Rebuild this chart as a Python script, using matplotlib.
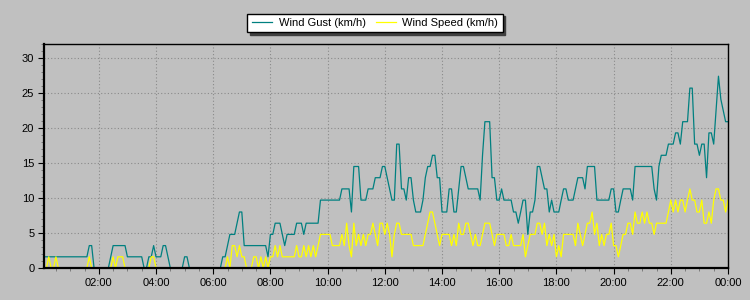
import numpy as np
import matplotlib
matplotlib.use("Agg")
import matplotlib.pyplot as plt
import matplotlib.ticker as mticker

# 5-minute readings, 00:05 .. 24:00, one row per hour
gust_kmh = [
    1.6, 1.6, 1.6, 1.6, 1.6, 1.6, 1.6, 1.6, 1.6, 1.6, 1.6, 1.6,
    1.6, 1.6, 1.6, 1.6, 1.6, 1.6, 1.6, 3.2, 3.2, 0, 0, 0,
    0, 0, 0, 0, 1.6, 3.2, 3.2, 3.2, 3.2, 3.2, 3.2, 1.6,
    1.6, 1.6, 1.6, 1.6, 1.6, 1.6, 0, 0, 1.6, 1.6, 3.2, 1.6,
    1.6, 1.6, 3.2, 3.2, 1.6, 0, 0, 0, 0, 0, 0, 1.6,
    1.6, 0, 0, 0, 0, 0, 0, 0, 0, 0, 0, 0,
    0, 0, 0, 1.6, 1.6, 3.2, 4.8, 4.8, 4.8, 6.4, 8.0, 8.0,
    3.2, 3.2, 3.2, 3.2, 3.2, 3.2, 3.2, 3.2, 3.2, 3.2, 1.6, 4.8,
    4.8, 6.4, 6.4, 6.4, 4.8, 3.2, 4.8, 4.8, 4.8, 4.8, 6.4, 6.4,
    6.4, 4.8, 6.4, 6.4, 6.4, 6.4, 6.4, 6.4, 9.7, 9.7, 9.7, 9.7,
    9.7, 9.7, 9.7, 9.7, 9.7, 11.3, 11.3, 11.3, 11.3, 8.0, 14.5, 14.5,
    14.5, 9.7, 9.7, 9.7, 11.3, 11.3, 11.3, 12.9, 12.9, 12.9, 14.5, 14.5,
    12.9, 11.3, 9.7, 9.7, 17.7, 17.7, 11.3, 11.3, 9.7, 12.9, 12.9, 9.7,
    8.0, 8.0, 8.0, 9.7, 12.9, 14.5, 14.5, 16.1, 16.1, 12.9, 12.9, 8.0,
    8.0, 8.0, 11.3, 11.3, 8.0, 8.0, 11.3, 14.5, 14.5, 12.9, 11.3, 11.3,
    11.3, 11.3, 11.3, 9.7, 16.1, 20.9, 20.9, 20.9, 12.9, 12.9, 9.7, 9.7,
    11.3, 9.7, 9.7, 9.7, 9.7, 8.0, 8.0, 6.4, 8.0, 9.7, 9.7, 4.8,
    8.0, 8.0, 9.7, 14.5, 14.5, 12.9, 11.3, 11.3, 8.0, 9.7, 8.0, 8.0,
    8.0, 9.7, 11.3, 11.3, 9.7, 9.7, 9.7, 11.3, 12.9, 12.9, 12.9, 11.3,
    14.5, 14.5, 14.5, 14.5, 9.7, 9.7, 9.7, 9.7, 9.7, 9.7, 11.3, 11.3,
    8.0, 8.0, 9.7, 11.3, 11.3, 11.3, 11.3, 9.7, 14.5, 14.5, 14.5, 14.5,
    14.5, 14.5, 14.5, 14.5, 11.3, 9.7, 14.5, 16.1, 16.1, 16.1, 17.7, 17.7,
    17.7, 19.3, 19.3, 17.7, 20.9, 20.9, 20.9, 25.7, 25.7, 17.7, 17.7, 16.1,
    17.7, 17.7, 12.9, 19.3, 19.3, 17.7, 22.5, 27.4, 24.1, 22.5, 20.9, 20.9,
]

speed_kmh = [
    0, 0, 1.6, 0, 0, 1.6, 0, 0, 0, 0, 0, 0,
    0, 0, 0, 0, 0, 0, 0, 1.6, 0, 0, 0, 0,
    0, 0, 0, 0, 0, 1.6, 0, 1.6, 1.6, 1.6, 0, 0,
    0, 0, 0, 0, 0, 0, 0, 0, 0, 1.6, 1.6, 0,
    0, 0, 0, 0, 0, 0, 0, 0, 0, 0, 0, 0,
    0, 0, 0, 0, 0, 0, 0, 0, 0, 0, 0, 0,
    0, 0, 0, 0, 0, 1.6, 0, 3.2, 3.2, 1.6, 3.2, 1.6,
    1.6, 0, 0, 0, 1.6, 1.6, 0, 1.6, 0, 1.6, 0, 1.6,
    1.6, 3.2, 1.6, 3.2, 1.6, 1.6, 1.6, 1.6, 1.6, 1.6, 3.2, 1.6,
    1.6, 3.2, 1.6, 3.2, 1.6, 3.2, 1.6, 3.2, 4.8, 4.8, 4.8, 4.8,
    4.8, 3.2, 3.2, 3.2, 3.2, 4.8, 3.2, 6.4, 3.2, 1.6, 6.4, 3.2,
    4.8, 3.2, 4.8, 3.2, 4.8, 4.8, 6.4, 4.8, 3.2, 6.4, 6.4, 4.8,
    6.4, 4.8, 1.6, 4.8, 6.4, 6.4, 4.8, 4.8, 4.8, 4.8, 4.8, 3.2,
    3.2, 3.2, 3.2, 3.2, 4.8, 6.4, 8.0, 8.0, 6.4, 4.8, 3.2, 4.8,
    4.8, 4.8, 4.8, 3.2, 4.8, 3.2, 6.4, 4.8, 4.8, 6.4, 6.4, 4.8,
    3.2, 4.8, 3.2, 3.2, 4.8, 6.4, 6.4, 6.4, 4.8, 3.2, 4.8, 4.8,
    4.8, 4.8, 3.2, 3.2, 4.8, 3.2, 3.2, 3.2, 3.2, 4.8, 1.6, 3.2,
    4.8, 4.8, 4.8, 6.4, 6.4, 4.8, 6.4, 3.2, 4.8, 3.2, 4.8, 1.6,
    3.2, 1.6, 4.8, 4.8, 4.8, 4.8, 4.8, 3.2, 6.4, 4.8, 3.2, 4.8,
    6.4, 6.4, 8.0, 4.8, 6.4, 3.2, 4.8, 3.2, 4.8, 4.8, 6.4, 3.2,
    3.2, 1.6, 3.2, 4.8, 4.8, 6.4, 6.4, 4.8, 8.0, 6.4, 6.4, 8.0,
    6.4, 8.0, 6.4, 6.4, 4.8, 6.4, 6.4, 6.4, 6.4, 6.4, 8.0, 9.7,
    8.0, 9.7, 8.0, 9.7, 9.7, 8.0, 9.7, 11.3, 9.7, 9.7, 8.0, 8.0,
    9.7, 6.4, 6.4, 8.0, 6.4, 9.7, 11.3, 11.3, 9.7, 9.7, 8.0, 9.7,
]

hours = np.arange(1, len(gust_kmh) + 1) * 5 / 60.0

bg = "#c0c0c0"
plt.rcParams["font.family"] = ["Liberation Sans", "DejaVu Sans"]

fig = plt.figure(figsize=(7.5, 3.0), dpi=100, facecolor=bg)
ax = fig.add_axes([44 / 750, 1 - 268 / 300, 684 / 750, 224 / 300], facecolor=bg)

l1, = ax.plot(hours, gust_kmh, color="#008080", lw=0.9)
l2, = ax.plot(hours, speed_kmh, color="#ffff00", lw=0.9)

ax.set_xlim(hours[0], hours[-1])
ax.set_ylim(0, 32)

ax.xaxis.set_major_locator(mticker.MultipleLocator(2))
ax.xaxis.set_minor_locator(mticker.MultipleLocator(0.5))
ax.xaxis.set_major_formatter(mticker.FuncFormatter(lambda v, p: "%02d:00" % (int(round(v)) % 24)))
ax.yaxis.set_major_locator(mticker.MultipleLocator(5))
ax.yaxis.set_minor_locator(mticker.MultipleLocator(1))

ax.tick_params(which="major", length=4, width=0.8, labelsize=8, colors="black", pad=3)
ax.tick_params(which="minor", length=2.5, width=0.6, color="#707070")
ax.grid(True, which="major", color="#8a8a8a", linestyle=(0, (1, 2)), linewidth=0.8)

for side in ["top", "right"]:
    ax.spines[side].set_linewidth(1.0)
for side in ["left", "bottom"]:
    ax.spines[side].set_linewidth(1.6)

leg = fig.legend([l1, l2], ["Wind Gust (km/h)", "Wind Speed (km/h)"],
                 loc="center", bbox_to_anchor=(375 / 750, 1 - 23 / 300), ncol=2,
                 fontsize=8, frameon=True, fancybox=False,
                 shadow={"color": "#404040", "alpha": 1, "ox": 2, "oy": -2},
                 edgecolor="black", facecolor="white", framealpha=1,
                 handlelength=1.8, handletextpad=0.6, columnspacing=0.9,
                 borderpad=0.4, borderaxespad=0)
leg.get_frame().set_linewidth(1.0)

fig.savefig("out.png", dpi=100, facecolor=bg)
